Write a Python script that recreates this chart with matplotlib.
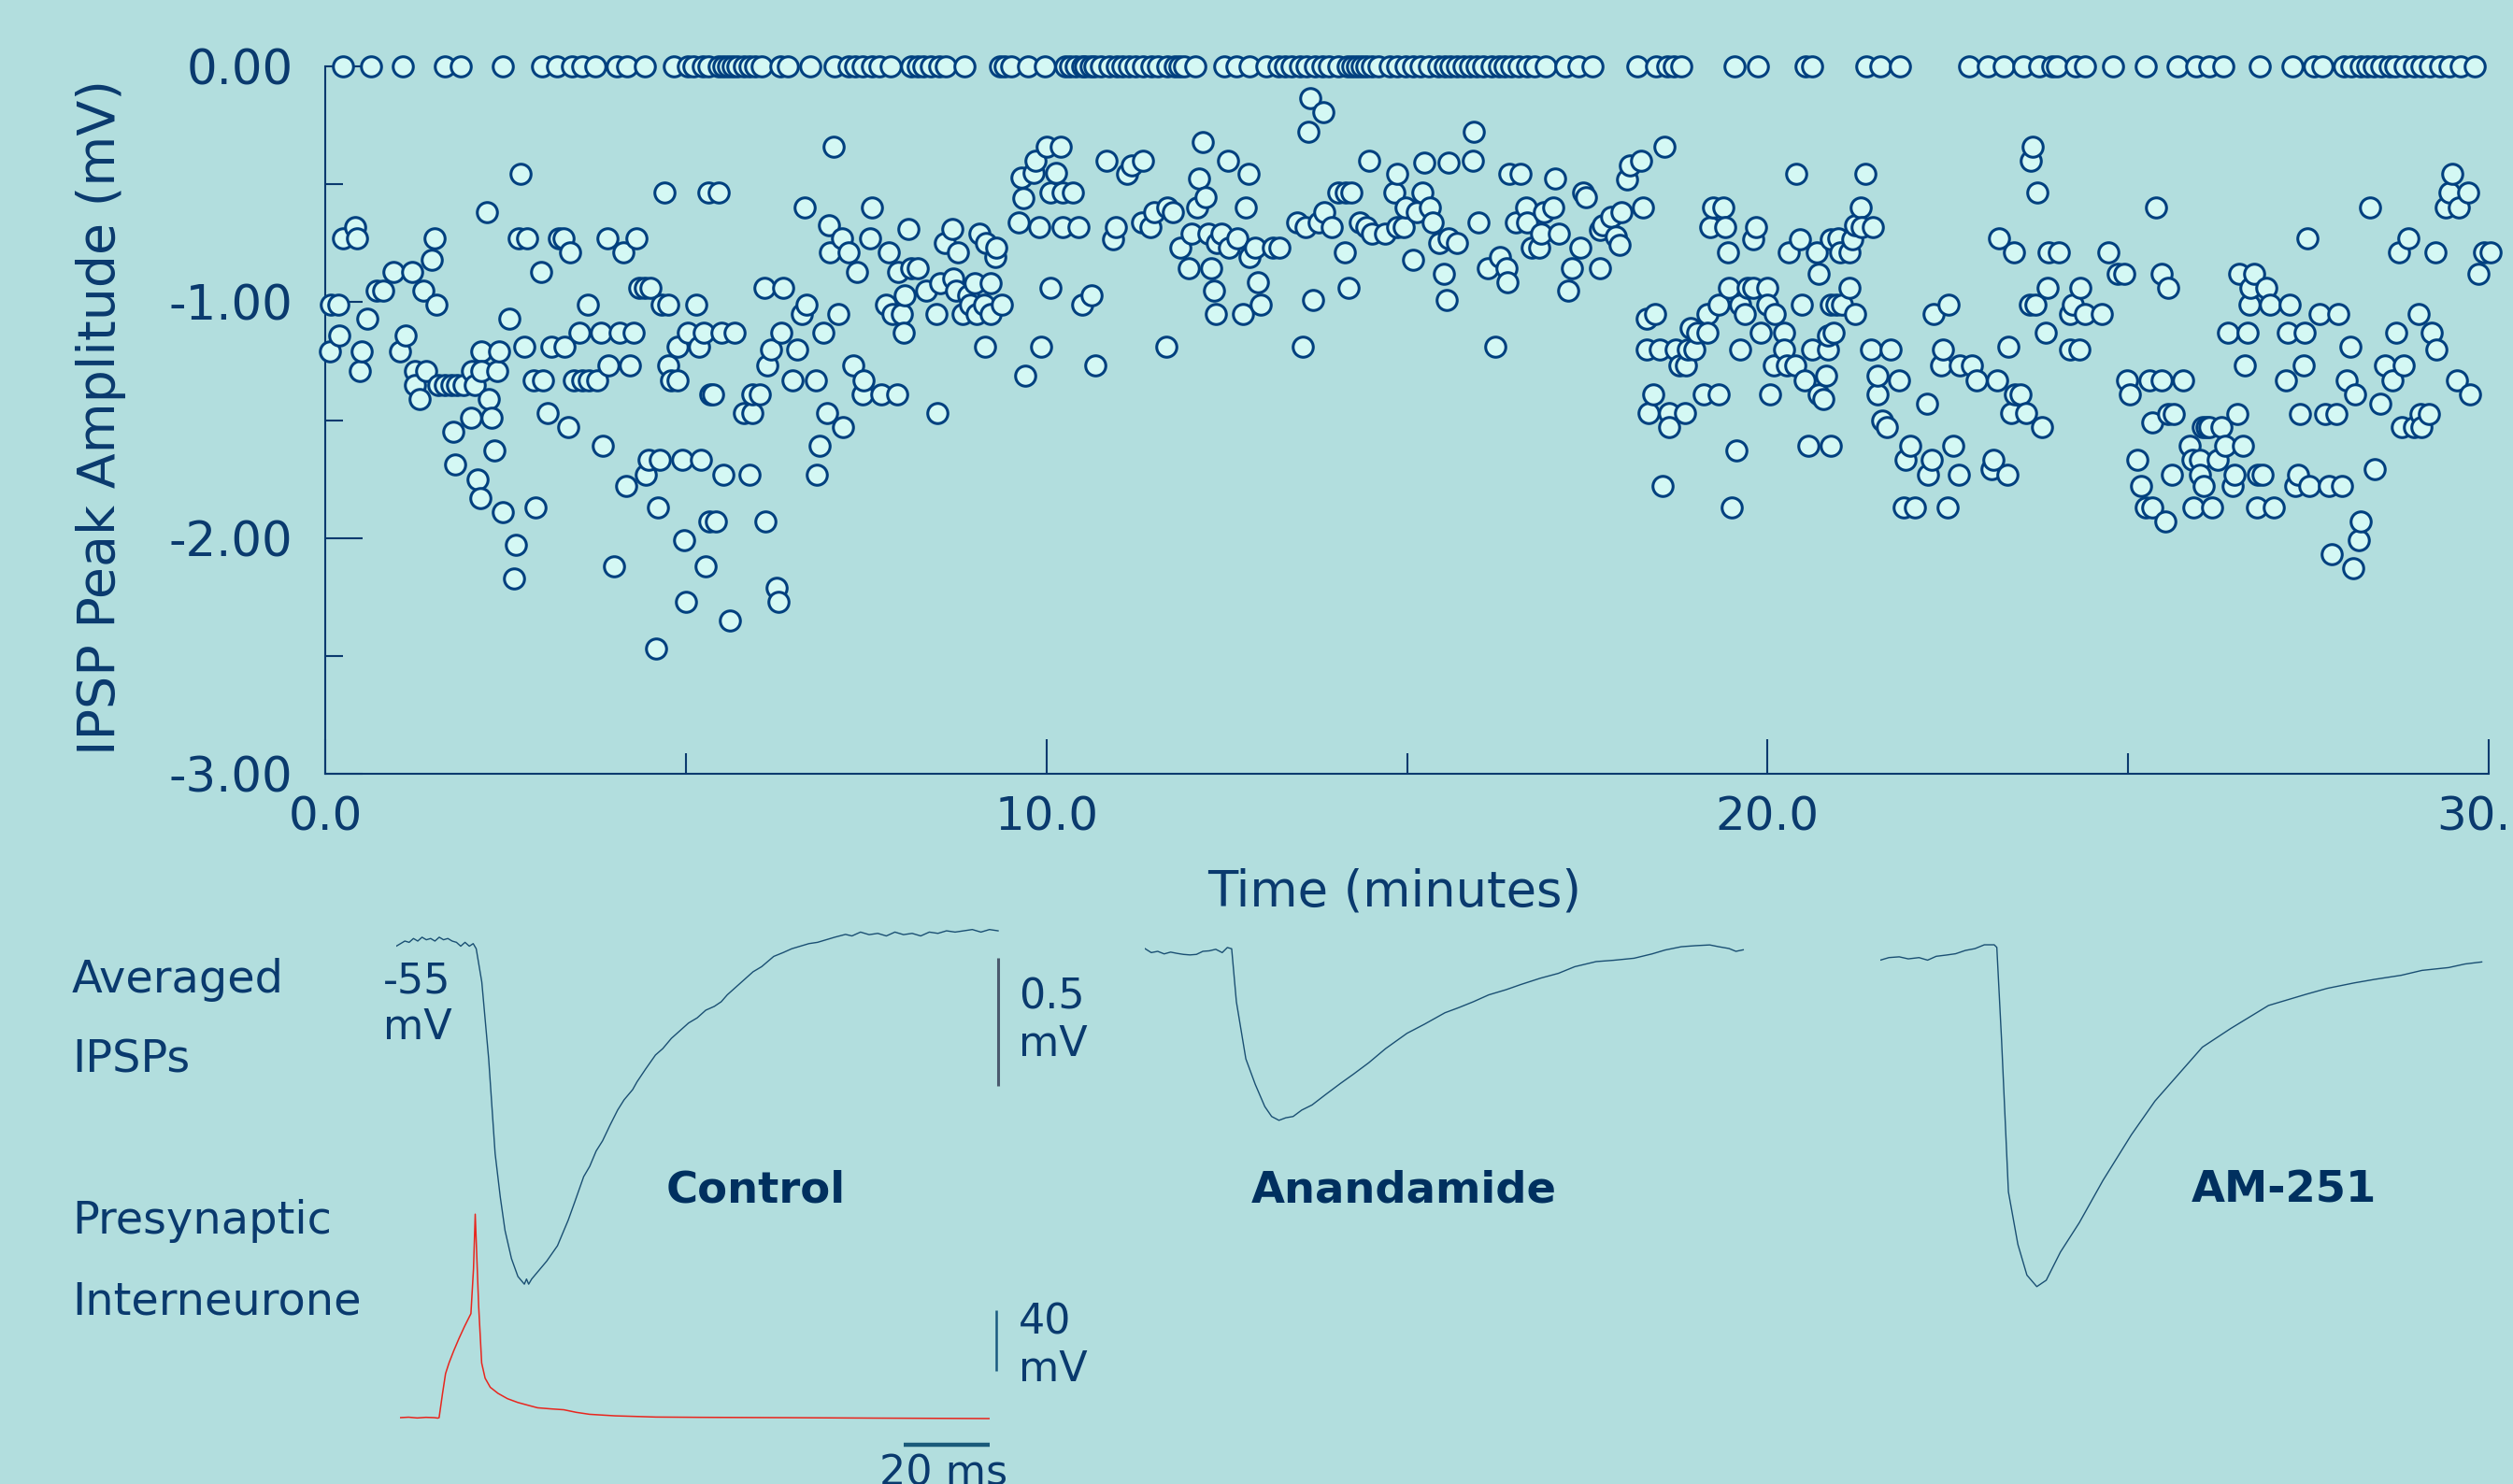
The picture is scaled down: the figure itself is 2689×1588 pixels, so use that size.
import numpy as np
import matplotlib.pyplot as plt

plt.rcParams['axes.unicode_minus'] = False
plt.rcParams['font.family'] = ['DejaVu Sans']

# -----------------------------
# data: IPSP peak amplitude (mV) vs time (minutes)
# -----------------------------
# failures (amplitude 0)
fail_times = [0.25, 0.64, 1.08, 1.66, 1.88, 2.46, 3.00, 3.22, 3.42, 3.57, 3.74, 4.04, 4.19, 4.43,
              4.84, 5.03, 5.10, 5.23, 5.31, 5.45, 5.52, 5.58, 5.65, 5.72, 5.80, 5.88, 5.96, 6.05,
              6.31, 6.42, 6.72, 7.06, 7.26, 7.35, 7.45, 7.58, 7.69, 7.84, 8.12, 8.21, 8.30, 8.40,
              8.51, 8.60, 8.86, 9.36, 9.42, 9.51, 9.74, 9.98, 10.26, 10.33, 10.41, 10.50, 10.54,
              10.61, 10.67, 10.76, 10.87, 10.98, 11.06, 11.15, 11.24, 11.34, 11.45, 11.54, 11.67,
              11.78, 11.84, 11.91, 12.06, 12.47, 12.64, 12.81, 13.05, 13.22, 13.31, 13.40, 13.51,
              13.61, 13.72, 13.83, 13.92, 14.05, 14.18, 14.24, 14.31, 14.37, 14.44, 14.52, 14.61,
              14.76, 14.87, 14.98, 15.08, 15.19, 15.30, 15.43, 15.52, 15.60, 15.69, 15.78, 15.88,
              15.97, 16.06, 16.17, 16.27, 16.36, 16.45, 16.55, 16.66, 16.77, 16.92, 17.20, 17.38,
              17.57, 18.20, 18.46, 18.61, 18.70, 18.80, 19.54, 19.86, 20.53, 20.62, 21.37, 21.57,
              21.84, 22.80, 23.06, 23.28, 23.54, 23.77, 23.95, 24.01, 24.27, 24.40, 24.79, 25.24,
              25.68, 25.94, 26.13, 26.32, 26.82, 27.28, 27.58, 27.69, 27.99, 28.10, 28.23, 28.31,
              28.40, 28.51, 28.62, 28.70, 28.83, 28.96, 29.07, 29.18, 29.33, 29.46, 29.61, 29.80]

# events as (time, amplitude) in 5-minute blocks
events_0_5 = [(0.06, -1.21), (0.08, -1.01), (0.18, -1.01), (0.20, -1.14), (0.25, -0.73), (0.42, -0.68),
              (0.44, -0.73), (0.48, -1.29), (0.51, -1.21), (0.58, -1.07), (0.71, -0.95), (0.80, -0.95),
              (0.95, -0.87), (1.04, -1.21), (1.11, -1.14), (1.20, -0.87), (1.25, -1.29), (1.25, -1.35),
              (1.31, -1.41), (1.36, -0.95), (1.40, -1.29), (1.48, -0.82), (1.51, -0.73), (1.54, -1.01),
              (1.57, -1.35), (1.66, -1.35), (1.75, -1.35), (1.78, -1.55), (1.80, -1.69), (1.83, -1.35),
              (1.92, -1.35), (2.02, -1.49), (2.03, -1.29), (2.07, -1.35), (2.11, -1.75), (2.15, -1.83),
              (2.16, -1.21), (2.17, -1.29), (2.24, -0.62), (2.27, -1.41), (2.31, -1.49), (2.34, -1.63),
              (2.39, -1.29), (2.41, -1.21), (2.46, -1.89), (2.55, -1.07), (2.62, -2.17), (2.64, -2.03),
              (2.68, -0.73), (2.71, -0.455), (2.76, -1.19), (2.80, -0.73), (2.89, -1.33), (2.91, -1.87),
              (2.99, -0.87), (3.02, -1.33), (3.09, -1.47), (3.14, -1.19), (3.24, -0.73), (3.30, -0.73),
              (3.32, -1.19), (3.37, -1.53), (3.40, -0.79), (3.45, -1.33), (3.53, -1.13), (3.56, -1.33),
              (3.64, -1.01), (3.65, -1.33), (3.77, -1.33), (3.82, -1.13), (3.85, -1.61), (3.92, -0.73),
              (3.93, -1.27), (4.01, -2.12), (4.08, -1.13), (4.14, -0.79), (4.17, -1.78), (4.23, -1.27),
              (4.28, -1.13), (4.31, -0.73), (4.36, -0.94), (4.43, -0.94), (4.44, -1.73), (4.49, -1.67),
              (4.51, -0.94), (4.59, -2.47), (4.61, -1.87), (4.64, -1.67), (4.66, -1.01), (4.70, -0.535),
              (4.75, -1.01), (4.76, -1.27), (4.79, -1.33), (4.88, -1.33), (4.88, -1.19), (4.95, -1.67),
              (4.98, -2.01), (5.00, -2.27), (5.03, -1.13), (5.14, -1.01), (5.18, -1.19), (5.21, -1.67),
              (5.25, -1.13), (5.28, -2.12), (5.31, -0.535), (5.33, -1.93), (5.34, -1.39)]

events_5_10 = [(5.38, -1.39), (5.42, -1.93), (5.45, -0.535), (5.49, -1.13), (5.52, -1.73), (5.61, -2.35),
               (5.68, -1.13), (5.81, -1.47), (5.88, -1.73), (5.92, -1.47), (5.92, -1.39), (6.03, -1.39),
               (6.09, -0.94), (6.11, -1.93), (6.13, -1.27), (6.18, -1.20), (6.26, -2.21), (6.29, -2.27),
               (6.33, -1.13), (6.35, -0.94), (6.48, -1.33), (6.55, -1.20), (6.61, -1.05), (6.65, -0.60),
               (6.68, -1.01), (6.80, -1.33), (6.82, -1.73), (6.86, -1.61), (6.91, -1.13), (6.96, -1.47),
               (6.98, -0.675), (7.00, -0.79), (7.05, -0.34), (7.12, -1.05), (7.16, -0.73), (7.18, -1.53),
               (7.26, -0.79), (7.32, -1.27), (7.37, -0.87), (7.45, -1.39), (7.47, -1.33), (7.56, -0.73),
               (7.58, -0.60), (7.71, -1.39), (7.78, -1.01), (7.81, -0.79), (7.86, -1.05), (7.93, -1.39),
               (7.95, -0.87), (8.00, -1.05), (8.02, -1.13), (8.04, -0.97), (8.09, -0.69), (8.12, -0.855),
               (8.21, -0.855), (8.33, -0.95), (8.47, -1.05), (8.49, -1.47), (8.53, -0.92), (8.59, -0.75),
               (8.69, -0.69), (8.71, -0.90), (8.75, -0.95), (8.77, -0.79), (8.84, -1.05), (8.92, -0.97),
               (8.94, -1.01), (9.01, -0.92), (9.03, -1.05), (9.07, -0.71), (9.14, -1.01), (9.15, -1.19),
               (9.16, -0.75), (9.23, -0.92), (9.23, -1.05), (9.29, -0.81), (9.31, -0.77), (9.38, -1.01),
               (9.62, -0.66), (9.66, -0.47), (9.68, -0.56), (9.71, -1.31), (9.82, -0.45), (9.85, -0.40),
               (9.90, -0.68), (9.93, -1.19), (10.00, -0.34), (10.05, -0.535), (10.06, -0.94),
               (10.13, -0.45), (10.20, -0.34), (10.22, -0.535), (10.22, -0.68), (10.37, -0.535),
               (10.44, -0.68), (10.50, -1.01)]

events_10_15 = [(10.62, -0.97), (10.68, -1.27), (10.83, -0.40), (10.92, -0.735), (10.96, -0.68),
                (11.12, -0.455), (11.19, -0.42), (11.32, -0.66), (11.34, -0.40), (11.44, -0.68),
                (11.49, -0.62), (11.66, -1.19), (11.67, -0.60), (11.76, -0.62), (11.86, -0.77),
                (11.98, -0.855), (12.01, -0.71), (12.09, -0.60), (12.12, -0.475), (12.17, -0.32),
                (12.21, -0.555), (12.25, -0.71), (12.28, -0.855), (12.33, -0.95), (12.35, -1.05),
                (12.36, -0.75), (12.43, -0.71), (12.52, -0.40), (12.53, -0.77), (12.65, -0.73),
                (12.73, -1.05), (12.77, -0.60), (12.80, -0.455), (12.81, -0.81), (12.89, -0.77),
                (12.93, -0.915), (12.97, -1.01), (13.14, -0.77), (13.23, -0.77), (13.48, -0.66),
                (13.56, -1.19), (13.59, -0.68), (13.63, -0.277), (13.66, -0.135), (13.70, -0.99),
                (13.77, -0.66), (13.84, -0.195), (13.85, -0.62), (13.96, -0.68), (14.05, -0.535),
                (14.14, -0.79), (14.15, -0.535), (14.19, -0.94), (14.23, -0.535), (14.35, -0.66),
                (14.43, -0.68), (14.47, -0.40), (14.52, -0.71), (14.69, -0.71), (14.82, -0.535),
                (14.86, -0.455), (14.87, -0.68), (14.95, -0.68), (14.98, -0.60), (15.09, -0.82),
                (15.13, -0.62), (15.21, -0.535), (15.24, -0.41), (15.32, -0.60), (15.36, -0.66),
                (15.45, -0.75), (15.51, -0.88), (15.55, -0.99), (15.58, -0.73), (15.58, -0.41),
                (15.69, -0.75)]

events_15_20 = [(15.91, -0.40), (15.93, -0.277), (15.99, -0.66), (16.12, -0.855), (16.23, -1.19),
                (16.29, -0.81), (16.38, -0.855), (16.39, -0.915), (16.42, -0.455), (16.51, -0.66),
                (16.58, -0.455), (16.65, -0.60), (16.66, -0.66), (16.73, -0.77), (16.84, -0.77),
                (16.86, -0.71), (16.90, -0.62), (17.03, -0.60), (17.06, -0.475), (17.11, -0.71),
                (17.23, -0.95), (17.29, -0.855), (17.41, -0.77), (17.44, -0.535), (17.48, -0.555),
                (17.67, -0.855), (17.68, -0.695), (17.72, -0.675), (17.83, -0.64), (17.89, -0.72),
                (17.95, -0.755), (17.98, -0.62), (18.05, -0.48), (18.09, -0.42), (18.24, -0.40),
                (18.27, -0.60), (18.33, -1.07), (18.33, -1.20), (18.35, -1.47), (18.41, -1.39),
                (18.44, -1.05), (18.50, -1.20), (18.55, -1.78), (18.57, -0.34), (18.63, -1.47),
                (18.63, -1.53), (18.72, -1.20), (18.78, -1.27), (18.85, -1.47), (18.87, -1.27),
                (18.89, -1.20), (18.93, -1.11), (18.98, -1.20), (19.02, -1.13), (19.11, -1.39),
                (19.17, -1.05), (19.17, -1.13), (19.21, -0.68), (19.24, -0.60), (19.32, -1.01),
                (19.32, -1.39), (19.39, -0.60), (19.41, -0.68), (19.45, -0.79), (19.47, -0.94),
                (19.50, -1.87), (19.57, -1.63), (19.62, -1.01), (19.62, -1.20), (19.69, -1.05),
                (19.73, -0.94), (19.80, -0.94), (19.80, -0.735), (19.84, -0.68), (19.91, -1.13),
                (19.99, -0.94), (19.99, -1.01), (20.04, -1.39), (20.08, -1.27), (20.10, -1.05),
                (20.23, -1.13), (20.23, -1.20), (20.27, -1.27), (20.30, -0.79), (20.38, -1.27),
                (20.40, -0.455), (20.45, -0.735), (20.47, -1.01), (20.51, -1.33), (20.57, -1.61),
                (20.62, -1.20), (20.68, -0.79), (20.71, -0.88), (20.71, -1.39), (20.77, -1.41),
                (20.81, -1.31), (20.84, -1.20), (20.84, -1.14), (20.88, -0.735), (20.88, -1.01),
                (20.88, -1.61)]

events_20_25 = [(20.92, -1.13), (20.96, -1.01), (20.98, -0.73), (21.01, -0.79), (21.03, -1.01),
                (21.13, -0.94), (21.14, -0.79), (21.17, -0.735), (21.21, -1.05), (21.22, -0.675),
                (21.29, -0.60), (21.31, -0.68), (21.35, -0.455), (21.44, -1.20), (21.46, -0.68),
                (21.52, -1.39), (21.53, -1.31), (21.59, -1.50), (21.66, -1.53), (21.70, -1.20),
                (21.82, -1.33), (21.89, -1.87), (21.91, -1.67), (21.98, -1.61), (22.04, -1.87),
                (22.21, -1.43), (22.23, -1.73), (22.27, -1.67), (22.30, -1.05), (22.41, -1.27),
                (22.43, -1.20), (22.50, -1.87), (22.51, -1.01), (22.58, -1.61), (22.65, -1.73),
                (22.67, -1.27), (22.83, -1.27), (22.90, -1.33), (23.10, -1.71), (23.13, -1.67),
                (23.18, -1.33), (23.21, -0.73), (23.32, -1.73), (23.34, -1.19), (23.38, -1.47),
                (23.42, -0.79), (23.43, -1.39), (23.51, -1.39), (23.58, -1.47), (23.64, -1.01),
                (23.65, -0.40), (23.68, -0.34), (23.71, -1.01), (23.74, -0.535), (23.81, -1.53),
                (23.86, -1.13), (23.88, -0.94), (23.90, -0.79), (24.04, -0.79), (24.19, -1.05),
                (24.19, -1.20), (24.23, -1.01), (24.33, -1.20), (24.34, -0.94), (24.40, -1.05),
                (24.64, -1.05), (24.73, -0.79), (24.85, -0.88), (24.94, -0.88), (24.98, -1.33),
                (25.02, -1.39), (25.13, -1.67), (25.18, -1.78), (25.24, -1.87), (25.29, -1.33),
                (25.33, -1.87), (25.33, -1.51), (25.39, -0.60)]

events_25_30 = [(25.46, -0.88), (25.47, -1.33), (25.52, -1.93), (25.55, -0.94), (25.55, -1.475),
                (25.61, -1.73), (25.63, -1.475), (25.76, -1.33), (25.85, -1.61), (25.89, -1.67),
                (25.91, -1.87), (26.00, -1.67), (26.00, -1.73), (26.04, -1.53), (26.05, -1.78),
                (26.09, -1.53), (26.13, -1.53), (26.17, -1.87), (26.24, -1.67), (26.29, -1.53),
                (26.35, -1.61), (26.39, -1.13), (26.45, -1.78), (26.48, -1.73), (26.52, -1.475),
                (26.54, -0.88), (26.59, -1.61), (26.62, -1.27), (26.66, -1.13), (26.68, -1.01),
                (26.69, -0.94), (26.75, -0.88), (26.78, -1.87), (26.80, -1.73), (26.86, -1.73),
                (26.92, -0.94), (26.97, -1.01), (27.02, -1.87), (27.19, -1.33), (27.21, -1.13),
                (27.24, -1.01), (27.32, -1.78), (27.36, -1.73), (27.38, -1.475), (27.44, -1.27),
                (27.45, -1.13), (27.49, -0.73), (27.51, -1.78), (27.66, -1.05), (27.73, -1.475),
                (27.79, -1.78), (27.82, -2.07), (27.89, -1.475), (27.92, -1.05), (27.96, -1.78),
                (28.03, -1.33), (28.08, -1.19), (28.12, -2.13), (28.15, -1.39), (28.20, -2.01),
                (28.22, -1.93), (28.35, -0.60), (28.42, -1.71), (28.50, -1.43), (28.56, -1.27),
                (28.66, -1.33), (28.72, -1.13), (28.75, -0.79), (28.79, -1.53), (28.82, -1.27),
                (28.88, -0.73), (28.96, -1.53), (29.03, -1.05), (29.05, -1.475), (29.07, -1.53),
                (29.17, -1.475), (29.21, -1.13), (29.26, -0.79), (29.27, -1.20), (29.40, -0.60),
                (29.46, -0.535), (29.49, -0.455), (29.56, -1.33), (29.59, -0.60), (29.72, -0.535),
                (29.74, -1.39), (29.86, -0.88), (29.93, -0.79), (30.03, -0.79)]

# -----------------------------
# data: averaged traces (ms, mV relative to baseline)
# -----------------------------
ctrl_ms = [0, 1, 2, 3, 4, 5, 6, 7, 8, 9, 10, 11, 12, 13, 14, 15, 16, 17, 17.9, 18.6, 19.9, 21.5, 23.0,
           24.2, 25.3, 26.8, 28.3, 29.3, 29.8, 30.3, 30.8, 31.5, 33, 35, 37.5, 40, 41.5, 43.6, 45, 46.5,
           48, 49.7, 51.5, 53, 55, 56, 58, 60.3, 62, 64, 66, 68, 70, 72, 74, 75.6, 77, 79, 81, 83, 85,
           87.8, 90, 92, 94, 96, 98, 100, 102, 104.5, 106, 108, 110, 112, 114, 116, 118, 120, 122,
           124, 126, 128, 130, 132, 134, 136, 138, 140]
ctrl_mv = [-0.02, -0.01, 0.0, -0.005, 0.01, 0.0, 0.015, 0.005, 0.01, 0.0, 0.015, 0.005, 0.01, 0.0,
           -0.005, -0.02, -0.005, -0.02, -0.01, -0.03, -0.16, -0.46, -0.83, -1.0, -1.13, -1.24, -1.31,
           -1.33, -1.34, -1.32, -1.34, -1.32, -1.29, -1.25, -1.19, -1.09, -1.02, -0.92, -0.88, -0.82,
           -0.78, -0.72, -0.66, -0.62, -0.58, -0.55, -0.50, -0.445, -0.42, -0.38, -0.35, -0.32,
           -0.30, -0.27, -0.255, -0.237, -0.21, -0.18, -0.15, -0.12, -0.10, -0.06, -0.045, -0.03,
           -0.02, -0.01, -0.005, 0.005, 0.015, 0.026, 0.02, 0.035, 0.025, 0.03, 0.02, 0.035, 0.025,
           0.03, 0.02, 0.035, 0.03, 0.04, 0.035, 0.04, 0.045, 0.035, 0.045, 0.04]

anan_ms = [0, 1.5, 3, 4.5, 6, 7.5, 9, 10.5, 12, 13.5, 15, 16.5, 18, 19.2, 20.2, 21.3, 23.5, 25.7,
           27.9, 29.5, 31.2, 32.8, 34.5, 36.5, 38.9, 42, 45.5, 48.5, 52.1, 56, 61.0, 65, 69.8, 73,
           76.4, 80, 84, 87.4, 92, 96.2, 100, 105, 109, 113.8, 118, 121, 124.8, 128, 131.4, 133.5,
           135.9, 137.5, 139.2]
anan_mv = [0.011, -0.005, 0.0, -0.01, -0.003, -0.008, -0.012, -0.014, -0.012, 0.0, 0.002, 0.008,
           -0.005, 0.015, 0.01, -0.197, -0.42, -0.52, -0.606, -0.645, -0.66, -0.65, -0.645, -0.62,
           -0.60, -0.56, -0.516, -0.48, -0.435, -0.38, -0.32, -0.285, -0.24, -0.22, -0.197, -0.17,
           -0.15, -0.13, -0.105, -0.086, -0.06, -0.04, -0.035, -0.027, -0.01, 0.005, 0.018, 0.022,
           0.025, 0.018, 0.011, 0.0, 0.006]

am251_ms = [0, 2, 4.4, 6.5, 9, 11, 13, 15.4, 17.5, 19.8, 22, 24.2, 26.5, 27.1, 28.2, 29.8, 32.0,
            34.1, 36.4, 38.6, 41.9, 46.3, 51.8, 58.4, 63.9, 69.4, 74.9, 81.5, 90.3, 99.1, 104,
            110.2, 115, 121.2, 126, 132.2, 136, 139.9]
am251_mv = [-0.06, -0.05, -0.047, -0.055, -0.05, -0.06, -0.045, -0.04, -0.035, -0.022, -0.015, 0.0,
            0.0, -0.01, -0.37, -0.965, -1.17, -1.29, -1.335, -1.31, -1.20, -1.085, -0.92, -0.742,
            -0.61, -0.505, -0.40, -0.327, -0.237, -0.193, -0.17, -0.149, -0.135, -0.119, -0.10,
            -0.089, -0.075, -0.067]

spike_ms = [0, 2, 4, 6, 8, 8.8, 9.1, 9.9, 10.6, 11.4, 12.5, 13.7, 15, 16.5, 17.1, 17.5, 18.3, 19.0,
            19.8, 21, 22.8, 25, 27.4, 30, 32, 35, 38.1, 41, 44.1, 50, 59.5, 70, 90, 110, 137]
spike_mv = [0, 0.3, -0.2, 0.2, 0, -0.3, 0, 16, 29, 36, 44, 52, 60, 68.5, 98, 134, 73.5, 36, 26, 20,
            16, 12.5, 10, 8, 6.5, 5.8, 5.2, 3.5, 2.2, 1.2, 0.4, 0.2, 0, -0.3, -0.6]

trace_names = ['Control', 'Anandamide', 'AM-251']

# -----------------------------
# style / layout (pixels of the 2689x1588 canvas)
# -----------------------------
W, H = 2689, 1588
BG = '#b2dede'
NAVY = '#0a3a6e'
EDGE = '#00407f'
FILL = '#d4f8f4'
TRACE = '#1a4f73'
PX_MS = 4.6       # pixels per ms in the traces
PX_MV = 274       # pixels per mV in the IPSP traces
PX_MV_SPIKE = 1.625
MS_SPAN = 142


def rect(l, t, r, b):
    return [l / W, 1 - b / H, (r - l) / W, (b - t) / H]


fig = plt.figure(figsize=(W / 100, H / 100), dpi=100, facecolor=BG)

# -----------------------------
# 1. scatter of IPSP amplitudes
# -----------------------------
ax = fig.add_axes(rect(348, 71, 2663, 828))
ax.set_facecolor('none')
ax.set_xlim(0, 30)
ax.set_ylim(-3, 0)
for side in ['top', 'right']:
    ax.spines[side].set_visible(False)
for side in ['left', 'bottom']:
    ax.spines[side].set_color(NAVY)
    ax.spines[side].set_linewidth(1.5)

ax.set_xticks([0, 10, 20, 30])
ax.set_xticks([5, 15, 25], minor=True)
ax.set_yticks([0, -1, -2, -3])
ax.set_yticks([-0.5, -1.5, -2.5], minor=True)
ax.xaxis.set_major_formatter(plt.FormatStrFormatter('%.1f'))
ax.yaxis.set_major_formatter(plt.FormatStrFormatter('%.2f'))
ax.tick_params(axis='x', which='major', direction='in', length=27, width=1.5, color=NAVY,
               labelsize=36, labelcolor=NAVY, pad=16)
ax.tick_params(axis='x', which='minor', direction='in', length=16, width=1.5, color=NAVY)
ax.tick_params(axis='y', which='major', direction='in', length=29, width=1.5, color=NAVY,
               labelsize=37, labelcolor=NAVY, pad=25)
ax.tick_params(axis='y', which='minor', direction='in', length=14, width=1.5, color=NAVY)

marker_kw = dict(linestyle='none', marker='o', ms=15.5, mfc=FILL, mec=EDGE, mew=2.2,
                 clip_on=False, zorder=3)
ax.plot(fail_times, np.zeros(len(fail_times)), **marker_kw)
for block in [events_0_5, events_5_10, events_10_15, events_15_20, events_20_25, events_25_30]:
    t, a = zip(*block)
    ax.plot(t, a, **marker_kw)

fig.text(108 / W, 1 - 446 / H, 'IPSP Peak Amplitude (mV)', rotation=90, ha='center',
         va='center', fontsize=40, color=NAVY)
fig.text(1492 / W, 1 - 955 / H, 'Time (minutes)', ha='center', va='center', fontsize=38,
         color=NAVY)


# -----------------------------
# 2. averaged IPSP traces and presynaptic spike
# -----------------------------
def trace_axes(left, base, y_lo, y_hi, px_per_unit):
    top = base - y_hi * px_per_unit
    bottom = base - y_lo * px_per_unit
    a = fig.add_axes(rect(left, top, left + MS_SPAN * PX_MS, bottom))
    a.set_xlim(0, MS_SPAN)
    a.set_ylim(y_lo, y_hi)
    a.axis('off')
    return a


traces = [(ctrl_ms, ctrl_mv, 424, 1007), (anan_ms, anan_mv, 1225, 1018),
          (am251_ms, am251_mv, 2012, 1011)]
trace_axs = []
for ms, mv, left, base in traces:
    tax = trace_axes(left, base, -1.5, 0.15, PX_MV)
    tax.plot(ms, mv, color=TRACE, lw=1.0)
    trace_axs.append(tax)

# 0.5 mV scale bar next to the control trace
trace_axs[0].plot([140, 140], [-0.066, -0.566], color='#4a5a6e', lw=2.2, solid_capstyle='butt')

sax = trace_axes(428, 1517, -25, 140, PX_MV_SPIKE)
sax.plot(spike_ms, spike_mv, color='#e8261e', lw=1.1)
# 40 mV and 20 ms scale bars
sax.plot([138.7, 138.7], [31, 71], color='#1a5a80', lw=1.8, solid_capstyle='butt')
sax.plot([117.2, 137.2], [-18, -18], color='#1a5a7a', lw=3.2, solid_capstyle='butt')

# labels
side_txt = dict(color=NAVY, fontsize=34.5, va='center', ha='left')
fig.text(77 / W, 1 - 1048 / H, 'Averaged', **side_txt)
fig.text(77 / W, 1 - 1134 / H, 'IPSPs', **side_txt)
fig.text(77 / W, 1 - 1307 / H, 'Presynaptic', **side_txt)
fig.text(77 / W, 1 - 1393 / H, 'Interneurone', **side_txt)

txt = dict(color=NAVY, fontsize=32, va='center', ha='left')
fig.text(410 / W, 1 - 1050 / H, '-55', **txt)
fig.text(410 / W, 1 - 1099 / H, 'mV', **txt)
fig.text(1090 / W, 1 - 1067 / H, '0.5', **txt)
fig.text(1090 / W, 1 - 1117 / H, 'mV', **txt)
fig.text(1090 / W, 1 - 1415 / H, '40', **txt)
fig.text(1090 / W, 1 - 1465 / H, 'mV', **txt)
fig.text(1010 / W, 1 - 1555 / H, '20 ms', color=NAVY, fontsize=32, ha='center', va='top')

for name, cx in zip(trace_names, [809, 1502, 2444]):
    fig.text(cx / W, 1 - 1274 / H, name, ha='center', va='center', fontsize=33.5,
             fontweight='bold', color='#00305f')

fig.savefig('out.png', dpi=100, facecolor=BG)
